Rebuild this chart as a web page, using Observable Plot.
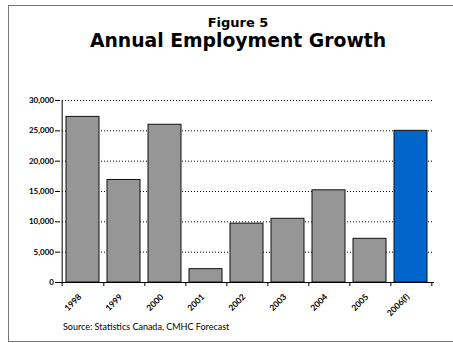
<!DOCTYPE html>
<html>
<head>
<meta charset="utf-8">
<script src="https://cdn.jsdelivr.net/npm/d3@7"></script>
<script src="https://cdn.jsdelivr.net/npm/@observablehq/plot@0.6"></script>
<style>
  html, body { margin: 0; padding: 0; background: #fff; }
  #wrap { position: relative; width: 453px; height: 343px; overflow: hidden; font-family: Lato, "DejaVu Sans", sans-serif; }
  #frame { position: absolute; left: 8px; top: 5px; width: 460px; height: 337px; border: 1.5px solid #777; box-sizing: border-box; }
  #fig { position: absolute; left: 0; width: 476px; top: 15.8px; text-align: center; font-family: "DejaVu Sans", sans-serif; font-weight: bold; font-size: 13px; line-height: 1; color: #000; }
  #title { position: absolute; left: 0; width: 476px; top: 32.1px; text-align: center; font-family: "DejaVu Sans", sans-serif; font-weight: bold; font-size: 18.8px; line-height: 1; color: #000; }
  #source { position: absolute; left: 63px; top: 322px; font-size: 9px; line-height: 1; color: #000; }
  #chart { position: absolute; left: 0; top: 0; }
</style>
</head>
<body>
<div id="wrap">
  <div id="frame"></div>
  <div id="fig">Figure 5</div>
  <div id="title">Annual Employment Growth</div>
  <div id="chart"></div>
  <div id="source">Source: Statistics Canada, CMHC Forecast</div>
</div>
<script>
const years = ["1998", "1999", "2000", "2001", "2002", "2003", "2004", "2005", "2006(f)"];
const growth = [27300, 16900, 26000, 2200, 9700, 10500, 15200, 7200, 25000];
const colors = ["#969696", "#969696", "#969696", "#969696", "#969696", "#969696", "#969696", "#969696", "#0066CC"];
const yTicks = [0, 5000, 10000, 15000, 20000, 25000, 30000];

const data = years.map((y, i) => ({year: y, value: growth[i], color: colors[i]}));

const W = 453, H = 343;
const mL = 59, mR = 19, mT = 100, mB = 61;
const step = (W - mL - mR) / years.length;

const chart = Plot.plot({
  width: W,
  height: H,
  marginLeft: mL,
  marginRight: mR,
  marginTop: mT,
  marginBottom: mB,
  style: {background: "transparent", fontFamily: "Lato, 'DejaVu Sans', sans-serif"},
  x: {domain: years, paddingInner: 0.2, paddingOuter: 0.1, label: null, axis: null},
  y: {domain: [0, 30000], label: null},
  marks: [
    Plot.gridY(yTicks.filter(d => d > 0), {stroke: "#000", strokeOpacity: 1, strokeWidth: 1, strokeDasharray: "1,2"}),
    Plot.barY(data, {x: "year", y: "value", fill: "color", stroke: "#111", strokeWidth: 1}),
    Plot.ruleY([0], {stroke: "#000", strokeWidth: 1}),
    Plot.ruleX([years[0]], {x: d => d, dx: -step / 2, stroke: "#000", strokeWidth: 1, insetBottom: -4}),
    Plot.ruleX(years, {x: d => d, dx: step / 2, y1: 0, y2: 0, insetBottom: -4, stroke: "#000", strokeWidth: 1}),
    Plot.axisY({ticks: yTicks, tickSize: 4, tickPadding: 1.5, tickFormat: d3.format(","), fontSize: 8, fontWeight: "bold", stroke: "#000"}),
    Plot.text(data, {x: "year", y: 0, text: "year", rotate: -45, textAnchor: "end", dy: 13, dx: -3, fontSize: 8.5, fontWeight: "bold", fill: "#000"})
  ]
});
document.getElementById("chart").appendChild(chart);
</script>
</body>
</html>
